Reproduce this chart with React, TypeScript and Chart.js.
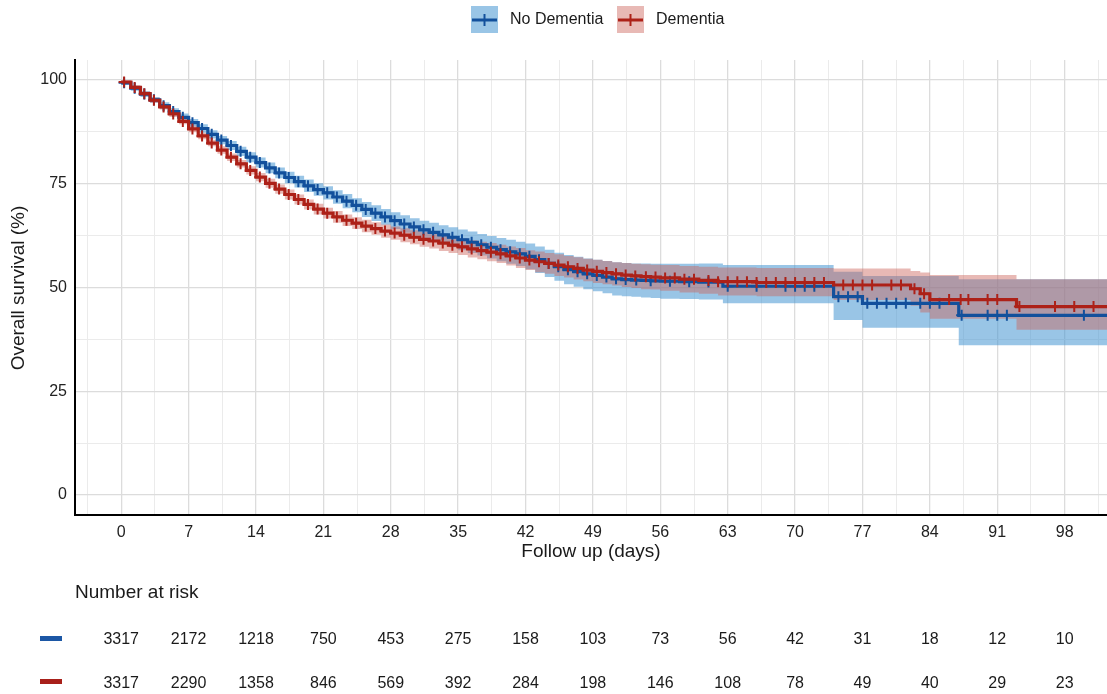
import React, { useEffect, useRef } from 'react';
import { Chart, registerables } from 'chart.js';

Chart.register(...registerables);

const FONT = '"Liberation Sans", Arial, Helvetica, sans-serif';

// ---------- data ----------
const noDemTime = [0,1,2,3,4,5,6,7,8,9,10,11,12,13,14,15,16,17,18,19,20,21,22,23,24,25,26,27,28,29,30,31,32,33,34,35,36,37,38,39,40,41,42,43,44,45,46,47,48,49,50,51,52,53,54,55,56,58,60,62.5,74,77,87,102.5];
const noDemSurv = [99.3,98.0,96.6,95.2,93.8,92.4,91.0,89.7,88.3,86.9,85.5,84.2,82.8,81.4,80.1,78.8,77.6,76.5,75.5,74.5,73.6,72.8,71.8,70.8,69.8,68.8,67.9,67.0,66.1,65.3,64.6,63.9,63.3,62.7,62.1,61.5,60.9,60.3,59.7,59.1,58.6,58.1,57.5,56.7,55.8,55.0,54.3,53.8,53.3,52.9,52.5,52.1,51.9,51.8,51.7,51.6,51.5,51.4,51.3,50.3,47.8,46.2,43.3,43.3];
const noDemUpper = [99.8,98.6,97.3,95.9,94.6,93.2,91.9,90.6,89.3,87.9,86.5,85.3,83.9,82.6,81.3,80.1,78.9,77.9,76.9,76.0,75.1,74.4,73.4,72.5,71.5,70.6,69.8,68.9,68.1,67.4,66.7,66.1,65.6,65.0,64.5,64.0,63.5,62.9,62.4,61.9,61.5,61.0,60.6,59.9,59.1,58.4,57.8,57.4,57.0,56.7,56.4,56.1,55.9,55.8,55.8,55.7,55.7,55.7,55.8,55.4,53.8,52.8,52.0,52.0];
const noDemLower = [98.8,97.4,95.9,94.5,93.0,91.6,90.1,88.8,87.3,85.9,84.5,83.1,81.7,80.2,78.9,77.5,76.3,75.1,74.1,73.0,72.1,71.2,70.2,69.1,68.1,67.0,66.0,65.1,64.1,63.2,62.5,61.7,61.0,60.4,59.7,59.0,58.3,57.7,57.0,56.3,55.7,55.2,54.4,53.5,52.5,51.6,50.8,50.2,49.6,49.1,48.6,48.1,47.9,47.8,47.6,47.5,47.3,47.2,47.1,46.2,42.2,40.3,36.1,36.1];
const noDemCensor = [0.3,1.4,2.4,3.4,4.4,5.4,6.4,7.4,8.4,9.4,10.4,11.4,12.4,13.4,14.4,15.4,16.4,17.4,18.4,19.4,20.4,21.4,22.4,23.4,24.4,25.4,26.4,27.4,28.4,29.4,30.4,31.4,32.4,33.4,34.4,35.4,36.4,37.4,38.4,39.4,40.4,41.4,42.4,43.4,44.4,45.4,46.4,47.4,48.4,49.4,50.4,51.4,52.4,53.5,55,57,59,61,63,66,69,70,71,72,74.5,75.5,76.5,77.5,78.5,79.5,80.5,81.5,83,84,85,87.3,90,91,92,100];

const demTime = [0,1,2,3,4,5,6,7,8,9,10,11,12,13,14,15,16,17,18,19,20,21,22,23,24,25,26,27,28,29,30,31,32,33,34,35,36,37,38,39,40,41,42,43,44,45,46,47,48,49,50,51,52,53,54,55,56,58,60,62,66,74,82,83,84,93,102.5];
const demSurv = [99.5,98.2,96.7,95.1,93.5,91.8,90.0,88.2,86.5,84.8,83.1,81.4,79.8,78.2,76.6,75.1,73.7,72.4,71.2,70.0,68.9,67.9,67.0,66.2,65.5,64.8,64.2,63.6,63.1,62.6,62.1,61.6,61.2,60.7,60.2,59.8,59.3,58.9,58.5,58.1,57.6,57.1,56.6,56.2,55.8,55.4,55.0,54.6,54.2,53.9,53.6,53.3,53.0,52.8,52.6,52.5,52.3,52.0,51.7,51.4,51.2,50.6,49.7,48.5,47.1,45.4,45.4];
const demUpper = [99.9,98.7,97.2,95.7,94.1,92.5,90.7,89.0,87.3,85.6,84.0,82.3,80.7,79.2,77.6,76.2,74.8,73.6,72.4,71.2,70.2,69.2,68.4,67.6,66.9,66.3,65.7,65.2,64.7,64.3,63.8,63.4,63.0,62.6,62.1,61.8,61.4,61.0,60.7,60.3,59.9,59.5,59.0,58.7,58.3,58.0,57.6,57.3,56.9,56.7,56.4,56.1,55.9,55.7,55.6,55.5,55.4,55.2,55.0,54.8,54.7,54.6,54.0,53.6,53.0,52.0,52.0];
const demLower = [99.1,97.7,96.2,94.5,92.9,91.1,89.3,87.4,85.7,84.0,82.2,80.5,78.9,77.2,75.6,74.0,72.6,71.2,70.0,68.8,67.6,66.6,65.6,64.8,64.1,63.3,62.7,62.0,61.5,60.9,60.4,59.8,59.4,58.8,58.3,57.8,57.2,56.8,56.3,55.9,55.3,54.7,54.2,53.7,53.3,52.8,52.4,51.9,51.5,51.1,50.8,50.5,50.1,49.9,49.6,49.5,49.2,48.8,48.5,48.1,47.9,47.0,45.6,44.0,42.5,39.8,39.8];
const demCensor = [0.3,1.4,2.4,3.4,4.4,5.4,6.4,7.4,8.4,9.4,10.4,11.4,12.4,13.4,14.4,15.4,16.4,17.4,18.4,19.4,20.4,21.4,22.4,23.4,24.4,25.4,26.4,27.4,28.4,29.4,30.4,31.4,32.4,33.4,34.4,35.4,36.4,37.4,38.4,39.4,40.4,41.4,42.4,43.4,44.4,45.4,46.4,47.4,48.4,49.4,50.4,51.4,52.4,53.4,54.5,55.5,56.5,57.5,58.5,59.5,61,62,63,64,65,66,67,68,69,70,71,72,73,75,76,77,78,80,81,82.4,83.4,86,87.2,88,90,91,93.3,97,99,101];

const xTickLabels = [0,7,14,21,28,35,42,49,56,63,70,77,84,91,98];
const xGridValues = [-3.5,0,3.5,7,10.5,14,17.5,21,24.5,28,31.5,35,38.5,42,45.5,49,52.5,56,59.5,63,66.5,70,73.5,77,80.5,84,87.5,91,94.5,98,101.5];
const yGridValues = [0,12.5,25,37.5,50,62.5,75,87.5,100];
const yTickLabels = [0,25,50,75,100];

const riskNoDem = [3317,2172,1218,750,453,275,158,103,73,56,42,31,18,12,10];
const riskDem = [3317,2290,1358,846,569,392,284,198,146,108,78,49,40,29,23];

const seriesNames = ['No Dementia', 'Dementia'];

// ---------- styles ----------
const BLUE = '#12509c';
const RED = '#ad2118';
const BLUE_BAND = 'rgba(70,150,210,0.55)';
const RED_BAND = 'rgba(205,100,90,0.45)';
const BLUE_SWATCH = '#1c57a5';
const RED_SWATCH = '#a8201a';

function pts(t: number[], v: number[]) {
  return t.map((x, i) => ({ x, y: v[i] }));
}
function stepValue(t: number[], v: number[], at: number) {
  let val = v[0];
  for (let i = 0; i < t.length; i++) {
    if (t[i] <= at) val = v[i];
    else break;
  }
  return val;
}
function censorPts(days: number[], t: number[], v: number[]) {
  return days.map((d) => ({ x: d, y: stepValue(t, v, d) }));
}

const overlayPlugin = {
  id: 'kmOverlay',
  afterDraw(chart: any) {
    const ctx = chart.ctx as CanvasRenderingContext2D;
    const xs = chart.scales.x;
    ctx.save();
    // legend
    const items = [
      { name: seriesNames[0], band: BLUE_BAND, line: BLUE, x: 471 },
      { name: seriesNames[1], band: RED_BAND, line: RED, x: 617 },
    ];
    ctx.font = `16px ${FONT}`;
    ctx.textBaseline = 'middle';
    ctx.textAlign = 'left';
    for (const it of items) {
      ctx.fillStyle = '#ffffff';
      ctx.fillRect(it.x, 6, 27, 27);
      ctx.fillStyle = it.band;
      ctx.fillRect(it.x, 6, 27, 27);
      ctx.strokeStyle = it.line;
      ctx.lineWidth = 3;
      ctx.beginPath();
      ctx.moveTo(it.x + 1, 20);
      ctx.lineTo(it.x + 26, 20);
      ctx.stroke();
      ctx.lineWidth = 2;
      ctx.beginPath();
      ctx.moveTo(it.x + 13.5, 14);
      ctx.lineTo(it.x + 13.5, 26);
      ctx.stroke();
      ctx.fillStyle = '#1a1a1a';
      ctx.fillText(it.name, it.x + 39, 20);
    }
    // axis titles
    ctx.fillStyle = '#1a1a1a';
    ctx.font = `19px ${FONT}`;
    ctx.textAlign = 'center';
    ctx.fillText('Follow up (days)', (chart.chartArea.left + chart.chartArea.right) / 2, 552);
    ctx.save();
    ctx.translate(19, 288);
    ctx.rotate(-Math.PI / 2);
    ctx.fillText('Overall survival (%)', 0, 0);
    ctx.restore();
    // risk table
    ctx.textAlign = 'left';
    ctx.font = `19px ${FONT}`;
    ctx.fillText('Number at risk', 75, 593);
    ctx.fillStyle = BLUE_SWATCH;
    ctx.fillRect(40, 636, 22, 5);
    ctx.fillStyle = RED_SWATCH;
    ctx.fillRect(40, 679, 22, 5);
    ctx.fillStyle = '#1a1a1a';
    ctx.font = `16px ${FONT}`;
    ctx.textAlign = 'center';
    xTickLabels.forEach((d, i) => {
      const px = xs.getPixelForValue(d);
      ctx.fillText(String(riskNoDem[i]), px, 640);
      ctx.fillText(String(riskDem[i]), px, 684);
    });
    ctx.restore();
  },
};

export default function App() {
  const ref = useRef<HTMLCanvasElement | null>(null);
  useEffect(() => {
    if (!ref.current) return;
    const chart = new Chart(ref.current, {
      type: 'line',
      data: {
        datasets: [
          {
            label: 'Dementia censor',
            data: censorPts(demCensor, demTime, demSurv),
            showLine: false,
            pointStyle: 'cross',
            pointRadius: 5.5,
            pointBorderWidth: 2,
            pointBorderColor: RED,
            pointBackgroundColor: RED,
          },
          {
            label: 'Dementia',
            data: pts(demTime, demSurv),
            stepped: 'before',
            borderColor: RED,
            borderWidth: 3.2,
            pointRadius: 0,
            fill: false,
          },
          {
            label: 'No Dementia censor',
            data: censorPts(noDemCensor, noDemTime, noDemSurv),
            showLine: false,
            pointStyle: 'cross',
            pointRadius: 5.5,
            pointBorderWidth: 2,
            pointBorderColor: BLUE,
            pointBackgroundColor: BLUE,
          },
          {
            label: 'No Dementia',
            data: pts(noDemTime, noDemSurv),
            stepped: 'before',
            borderColor: BLUE,
            borderWidth: 3.2,
            pointRadius: 0,
            fill: false,
          },
          {
            label: 'Dementia upper',
            data: pts(demTime, demUpper),
            stepped: 'before',
            borderWidth: 0,
            pointRadius: 0,
            fill: false,
          },
          {
            label: 'Dementia lower',
            data: pts(demTime, demLower),
            stepped: 'before',
            borderWidth: 0,
            pointRadius: 0,
            fill: '-1',
            backgroundColor: RED_BAND,
          },
          {
            label: 'No Dementia upper',
            data: pts(noDemTime, noDemUpper),
            stepped: 'before',
            borderWidth: 0,
            pointRadius: 0,
            fill: false,
          },
          {
            label: 'No Dementia lower',
            data: pts(noDemTime, noDemLower),
            stepped: 'before',
            borderWidth: 0,
            pointRadius: 0,
            fill: '-1',
            backgroundColor: BLUE_BAND,
          },
        ],
      },
      options: {
        animation: false,
        responsive: false,
        events: [],
        layout: { autoPadding: false, padding: { top: 60, bottom: 149, left: 0, right: 0 } },
        plugins: {
          legend: { display: false },
          tooltip: { enabled: false },
          title: { display: false },
        },
        scales: {
          x: {
            type: 'linear',
            min: -4.8,
            max: 102.4,
            afterBuildTicks: (s: any) => {
              s.ticks = xGridValues.map((v) => ({ value: v }));
            },
            afterFit: (s: any) => {
              s.height = 30;
              s.paddingLeft = 0;
              s.paddingRight = 0;
            },
            ticks: {
              autoSkip: false,
              maxRotation: 0,
              padding: 8,
              color: '#222222',
              font: { family: FONT, size: 16 },
              callback: (v: any) => (xTickLabels.includes(Number(v)) ? String(v) : ''),
            },
            grid: {
              drawTicks: false,
              color: (c: any) => (c.tick && xTickLabels.includes(c.tick.value) ? '#dcdcdc' : '#ebebeb'),
              lineWidth: (c: any) => (c.tick && xTickLabels.includes(c.tick.value) ? 1.3 : 1),
            },
            border: { display: true, color: '#000000', width: 2 },
          },
          y: {
            type: 'linear',
            min: -4.8,
            max: 104.8,
            afterBuildTicks: (s: any) => {
              s.ticks = yGridValues.map((v) => ({ value: v }));
            },
            afterFit: (s: any) => {
              s.width = 75;
              s.paddingTop = 0;
              s.paddingBottom = 0;
            },
            ticks: {
              autoSkip: false,
              padding: 8,
              color: '#222222',
              font: { family: FONT, size: 16 },
              callback: (v: any) => (yTickLabels.includes(Number(v)) ? String(v) : ''),
            },
            grid: {
              drawTicks: false,
              color: (c: any) => (c.tick && yTickLabels.includes(c.tick.value) ? '#dcdcdc' : '#ebebeb'),
              lineWidth: (c: any) => (c.tick && yTickLabels.includes(c.tick.value) ? 1.3 : 1),
            },
            border: { display: true, color: '#000000', width: 2 },
          },
        },
      } as any,
      plugins: [overlayPlugin],
    });
    return () => chart.destroy();
  }, []);
  return (
    <div style={{ position: 'absolute', left: 0, top: 0, width: 1107, height: 694, background: '#ffffff' }}>
      <canvas ref={ref} width={1107} height={694} style={{ display: 'block' }} />
    </div>
  );
}
